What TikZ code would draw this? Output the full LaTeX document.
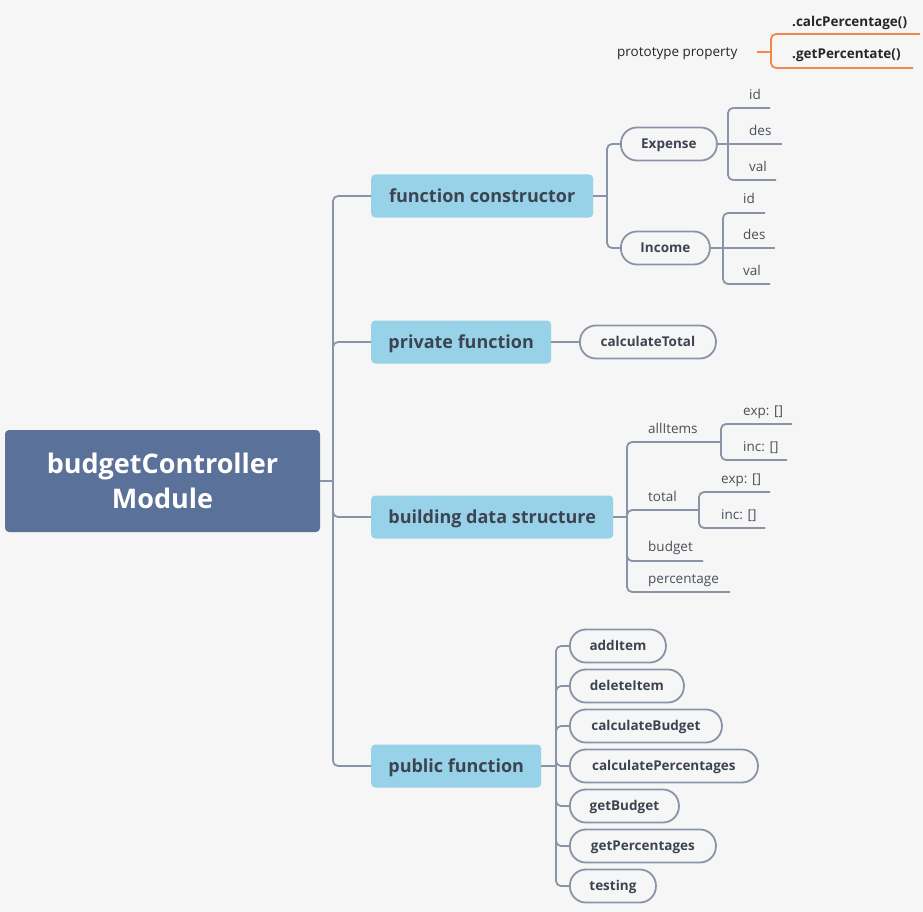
\documentclass[tikz,border=0pt]{standalone}
\usepackage{fontspec}
\setmainfont{Open Sans}
\usetikzlibrary{calc}
\definecolor{bg}{HTML}{F6F6F6}
\definecolor{conn}{HTML}{8A94A8}
\definecolor{lvone}{HTML}{97D2E8}
\definecolor{rootc}{HTML}{5A7199}
\definecolor{txt}{HTML}{3D4451}
\definecolor{leaftxt}{HTML}{4A4F57}
\definecolor{orng}{HTML}{F0884A}
\begin{document}
\begin{tikzpicture}[x=1pt,y=-1pt,
  link/.style={draw=conn, line width=1.8pt, rounded corners=5pt},
  olink/.style={draw=orng, line width=1.8pt, rounded corners=5pt},
  rootbox/.style={fill=rootc, rounded corners=4pt, text=white,
    font=\fontsize{27}{35}\selectfont\bfseries, align=center,
    minimum width=315pt, minimum height=102pt, inner sep=0pt},
  lvl/.style={fill=lvone, rounded corners=4pt, text=txt,
    font=\fontsize{18}{21}\selectfont\bfseries, inner sep=0pt,
    text height=13pt, text depth=0pt,
    minimum height=43pt, anchor=west},
  pill/.style={draw=conn, line width=1.8pt, fill=bg, rounded corners=16pt,
    text=txt, font=\fontsize{13.5}{16}\selectfont\bfseries, inner sep=0pt,
    text height=9.7pt, text depth=0pt,
    minimum height=33pt, anchor=west},
  leaf/.style={text=leaftxt, font=\fontsize{13.5}{16}\selectfont,
    text height=9.7pt, text depth=0pt,
    inner sep=0pt, anchor=west},
  proto/.style={text=black!85, font=\fontsize{13.5}{16}\selectfont\bfseries,
    text height=9.7pt, text depth=0pt,
    inner sep=0pt, anchor=west}
]
\fill[bg] (0,0) rectangle (923,912);
\useasboundingbox (0,0) rectangle (923,912);

% root
\node[rootbox] (root) at (162.5,481) {budgetController\\Module};
\coordinate (t0) at (333,481);
\draw[link] (root.east) -- (t0);

% level 1
\node[lvl, minimum width=222pt] (fc) at (371,196) {function constructor};
\node[lvl, minimum width=180pt] (pf) at (371,342) {private function};
\node[lvl, minimum width=242pt] (bds) at (371,517) {building data structure};
\node[lvl, minimum width=170pt] (pub) at (371,766) {public function};
\foreach \n in {fc,pf,bds,pub} \draw[link] (t0) |- (\n.west);

% function constructor
\coordinate (t1) at (607,196);
\draw[link] (fc.east) -- (t1);
\node[pill, minimum width=96pt] (exp) at (620,144) {Expense};
\node[pill, minimum width=89pt] (inc) at (620,248) {Income};
\draw[link] (t1) |- (exp.west);
\draw[link] (t1) |- (inc.west);

\coordinate (te) at (728,144);
\draw[link] (exp.east) -- (te);
\coordinate (e1) at (770,108);
\coordinate (e2) at (782,144);
\coordinate (e3) at (776,180);
\draw[link] (te) |- (e1);
\draw[link] (te) -- (e2);
\draw[link] (te) |- (e3);
\node[leaf] (eid) at (749,95) {id};
\node[leaf] (edes) at (749,131) {des};
\node[leaf] (eval) at (749,167) {val};

\coordinate (ti) at (723,248);
\draw[link] (inc.east) -- (ti);
\coordinate (i1) at (765,213);
\coordinate (i2) at (775,248);
\coordinate (i3) at (770,284);
\draw[link] (ti) |- (i1);
\draw[link] (ti) -- (i2);
\draw[link] (ti) |- (i3);
\node[leaf] (iid) at (743,199) {id};
\node[leaf] (ides) at (743,235) {des};
\node[leaf] (ival) at (743,271) {val};

% private function
\node[pill, minimum width=136pt] (ct) at (579,342) {calculateTotal};
\draw[link] (pf.east) -- (ct.west);

% building data structure
\coordinate (t2) at (627,517);
\draw[link] (bds.east) -- (t2);
\coordinate (ai) at (721,442);
\coordinate (to) at (699,510);
\coordinate (bu) at (703,561);
\coordinate (pe) at (730,592);
\draw[link] (t2) |- (ai);
\draw[link] (t2) |- (to);
\draw[link] (t2) |- (bu);
\draw[link] (t2) |- (pe);
\node[leaf] (lai) at (648,429) {allItems};
\node[leaf] (lto) at (648,497) {total};
\node[leaf] (lbu) at (648,547) {budget};
\node[leaf] (lpe) at (648,579) {percentage};

\coordinate (a1) at (792,424);
\coordinate (a2) at (787,460);
\draw[link] (ai) |- (a1);
\draw[link] (ai) |- (a2);
\node[leaf] (la1) at (743,411) {exp: []};
\node[leaf] (la2) at (743,447) {inc: []};

\coordinate (o1) at (770,492);
\coordinate (o2) at (765,528);
\draw[link] (to) |- (o1);
\draw[link] (to) |- (o2);
\node[leaf] (lo1) at (721,479) {exp: []};
\node[leaf] (lo2) at (721,515) {inc: []};

% public function
\coordinate (t3) at (556,766);
\draw[link] (pub.east) -- (t3);
\node[pill, minimum width=96pt] (p1) at (569,646) {addItem};
\node[pill, minimum width=114pt] (p2) at (569,686) {deleteItem};
\node[pill, minimum width=152pt] (p3) at (569,726) {calculateBudget};
\node[pill, minimum width=188pt] (p4) at (569,766) {calculatePercentages};
\node[pill, minimum width=109pt] (p5) at (569,806) {getBudget};
\node[pill, minimum width=146pt] (p6) at (569,846) {getPercentages};
\node[pill, minimum width=86pt] (p7) at (569,886) {testing};
\foreach \n in {p1,p2,p3,p4,p5,p6,p7} \draw[link] (t3) |- (\n.west);

% prototype property
\node[leaf, text=black!85] (pp) at (617,52) {prototype property};
\coordinate (ps) at (757,52);
\coordinate (pt) at (771,52);
\coordinate (q1) at (920,34);
\coordinate (q2) at (913,68);
\draw[olink] (ps) -- (pt);
\draw[olink] (pt) |- (q1);
\draw[olink] (pt) |- (q2);
\node[proto] (m1) at (792,22) {.calcPercentage()};
\node[proto] (m2) at (792,54) {.getPercentate()};
\end{tikzpicture}
\end{document}
